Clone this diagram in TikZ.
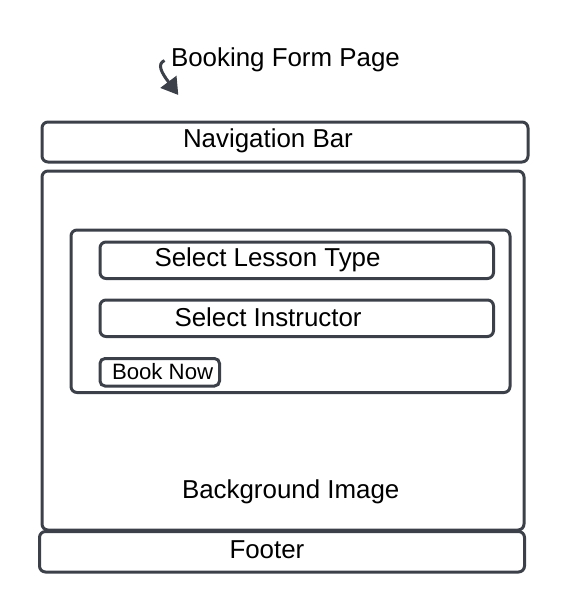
\documentclass[tikz,border=0pt]{standalone}
\usepackage{fontspec}
\setmainfont{Liberation Sans}
\usetikzlibrary{arrows.meta}
\definecolor{edge}{HTML}{3B4049}
\tikzset{
  box/.style={draw=edge, line width=3pt, rounded corners=6pt, inner sep=0pt, outer sep=0pt, rectangle},
  lbl/.style={anchor=base west, inner sep=0pt, outer sep=0pt, font=\fontsize{25.9}{30}\selectfont, text=black},
  smalllbl/.style={lbl, font=\fontsize{22.2}{26}\selectfont},
  pointer/.style={draw=edge, line width=3pt, -{Triangle[length=16.5pt, width=19.5pt]}}
}
\begin{document}
\begin{tikzpicture}[x=1pt,y=-1pt]
\useasboundingbox (0,0) rectangle (568,613);
% boxes
\node[box, minimum width=486pt, minimum height=40pt] (nav) at (285,142) {};
\node[box, minimum width=482pt, minimum height=359pt] (main) at (283,350.5) {};
\node[box, minimum width=439pt, minimum height=162.5pt] (panel) at (290.5,311.25) {};
\node[box, minimum width=393.5pt, minimum height=36.5pt] (lesson) at (296.75,260.25) {};
\node[box, minimum width=393.5pt, minimum height=36.5pt] (instr) at (296.75,318.25) {};
\node[box, minimum width=119.5pt, minimum height=27.5pt, rounded corners=5pt] (book) at (159.75,372.25) {};
\node[box, minimum width=485pt, minimum height=40.5pt] (footer) at (282,551.75) {};
% labels
\node[lbl] (title) at (171,66) {Booking Form Page};
\node[lbl] (navt) at (183,147) {Navigation Bar};
\node[lbl] (lessont) at (154.5,266) {Select Lesson Type};
\node[lbl] (instrt) at (174.5,326.5) {Select Instructor};
\node[smalllbl] (bookt) at (112,379.5) {Book Now};
\node[lbl] (bgt) at (182,498) {Background Image};
\node[lbl] (footert) at (229.5,558.5) {Footer};
% arrow
\coordinate (a0) at (164.5,60.5);
\coordinate (a1) at (178.3,95);
\draw[pointer] (a0) .. controls (157,64) and (161,72) .. (a1);
\end{tikzpicture}
\end{document}
